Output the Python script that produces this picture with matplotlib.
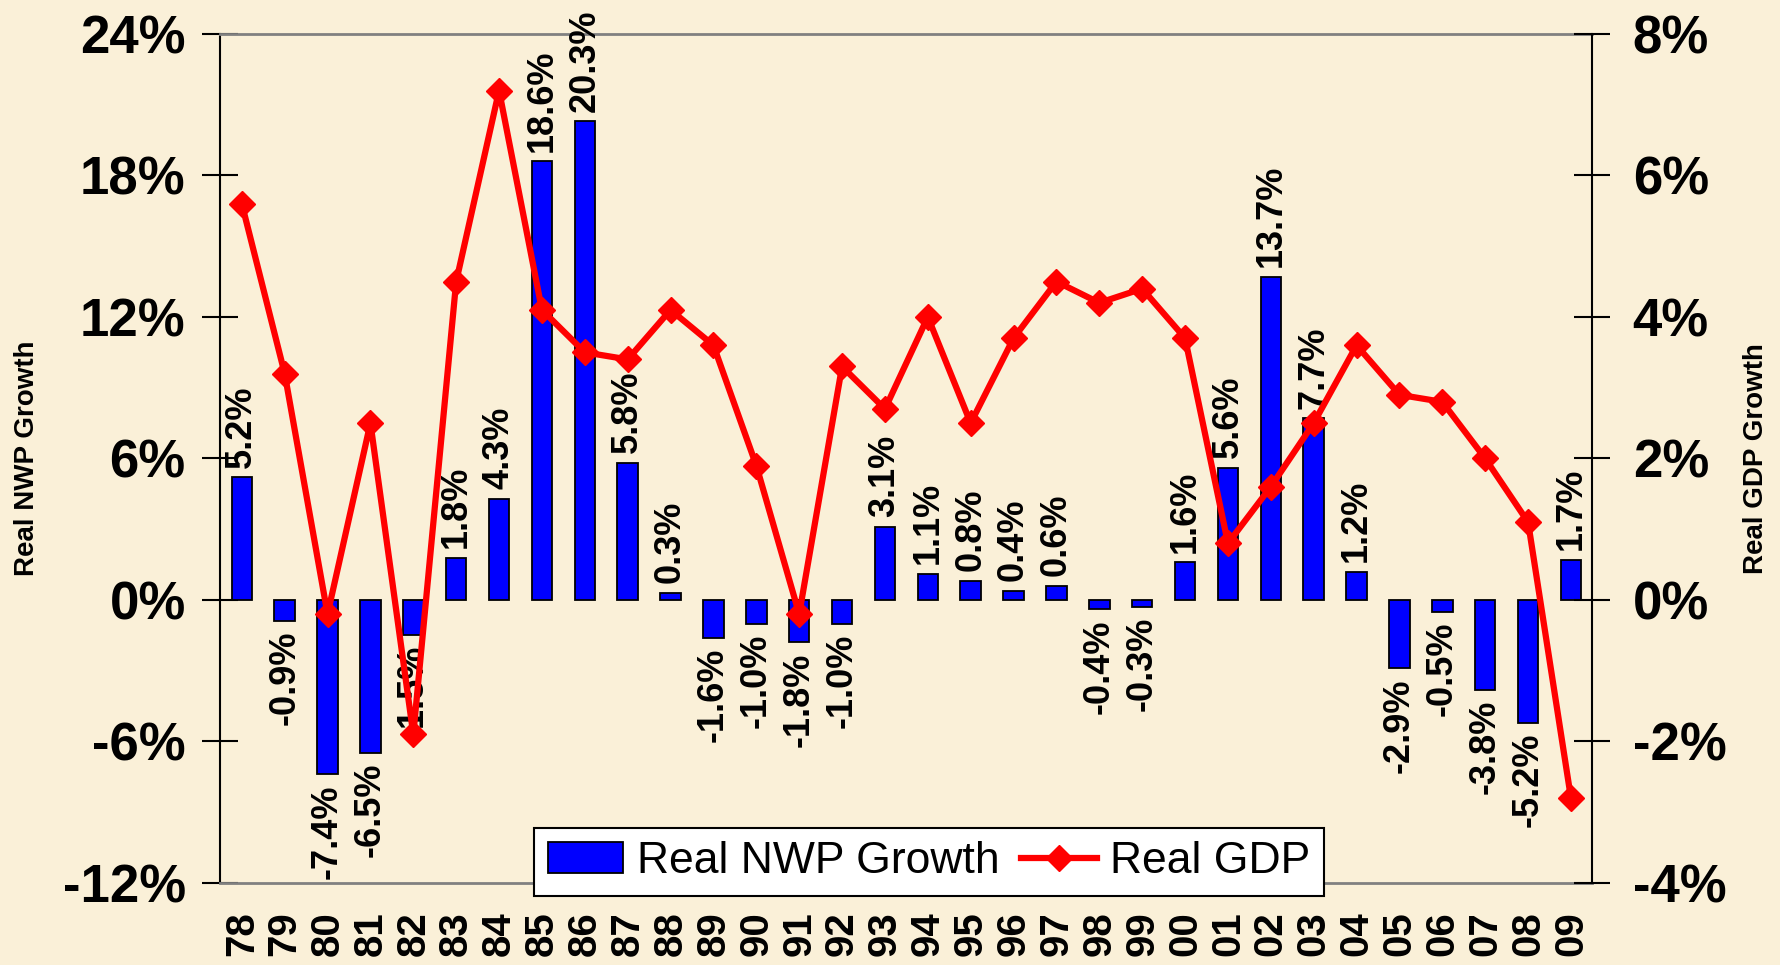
import matplotlib
matplotlib.use("Agg")
import matplotlib.pyplot as plt
from matplotlib.ticker import FuncFormatter

# ──────────────────────────────────────────────
# Data
# ──────────────────────────────────────────────
YEARS = ["78", "79", "80", "81", "82", "83", "84", "85", "86", "87", "88",
         "89", "90", "91", "92", "93", "94", "95", "96", "97", "98", "99",
         "00", "01", "02", "03", "04", "05", "06", "07", "08", "09"]

NWP_GROWTH = [5.2, -0.9, -7.4, -6.5, -1.5, 1.8, 4.3, 18.6, 20.3, 5.8, 0.3,
              -1.6, -1.0, -1.8, -1.0, 3.1, 1.1, 0.8, 0.4, 0.6, -0.4, -0.3,
              1.6, 5.6, 13.7, 7.7, 1.2, -2.9, -0.5, -3.8, -5.2, 1.7]

GDP_GROWTH = [5.6, 3.2, -0.2, 2.5, -1.9, 4.5, 7.2, 4.1, 3.5, 3.4, 4.1,
              3.6, 1.9, -0.2, 3.3, 2.7, 4.0, 2.5, 3.7, 4.5, 4.2, 4.4,
              3.7, 0.8, 1.6, 2.5, 3.6, 2.9, 2.8, 2.0, 1.1, -2.8]

LEFT_TICKS = [-12, -6, 0, 6, 12, 18, 24]
RIGHT_TICKS = [-4, -2, 0, 2, 4, 6, 8]

# ──────────────────────────────────────────────
# Style
# ──────────────────────────────────────────────
BG = "#FAF0D8"
BLUE = "#0000FF"
RED = "#FF0000"
plt.rcParams["font.family"] = ["Liberation Sans", "DejaVu Sans"]

pct = FuncFormatter(lambda v, _: f"{v:.0f}%")

fig = plt.figure(figsize=(17.8, 9.65), dpi=100, facecolor=BG)
ax = fig.add_axes([0.1238, 0.0850, 0.7708, 0.8798])
ax.set_facecolor("none")
x = list(range(len(YEARS)))

# bars (left axis)
bars = ax.bar(x, NWP_GROWTH, width=0.48, color=BLUE, edgecolor="black",
              linewidth=1.3, zorder=2)
for xi, v in zip(x, NWP_GROWTH):
    ax.annotate(f"{v:.1f}%", xy=(xi, v), xytext=(0, 7 if v >= 0 else -7),
                textcoords="offset points", rotation=90, ha="center",
                va="bottom" if v >= 0 else "top", fontsize=26,
                fontweight="bold", zorder=3)

ax.set_xlim(-0.5, len(YEARS) - 0.5)
ax.set_ylim(LEFT_TICKS[0], LEFT_TICKS[-1])
ax.set_yticks(LEFT_TICKS)
ax.yaxis.set_major_formatter(pct)
ax.set_xticks(x)
ax.set_xticklabels(YEARS, rotation=90, fontsize=29, fontweight="bold")
ax.tick_params(axis="x", length=0, pad=20)
ax.tick_params(axis="y", direction="inout", length=26, width=1.5, pad=12,
               labelsize=38)
for lbl in ax.get_yticklabels():
    lbl.set_fontweight("bold")

ax.spines["left"].set_color("black")
ax.spines["left"].set_linewidth(1.5)
ax.spines["right"].set_visible(False)
for side in ("top", "bottom"):
    ax.spines[side].set_color("#808080")
    ax.spines[side].set_linewidth(2)

ax.set_ylabel("Real NWP Growth", fontsize=20, fontweight="bold")
ax.yaxis.set_label_coords(-0.1315, 0.5)

# line (right axis)
ax2 = ax.twinx()
ax2.set_facecolor("none")
line, = ax2.plot(x, GDP_GROWTH, color=RED, lw=4.5, marker="D", ms=13.5,
                 mfc=RED, mec=RED, zorder=4)
ax2.set_ylim(RIGHT_TICKS[0], RIGHT_TICKS[-1])
ax2.set_yticks(RIGHT_TICKS)
ax2.yaxis.set_major_formatter(pct)
ax2.tick_params(axis="y", direction="inout", length=26, width=1.5, pad=16,
                labelsize=38)
for lbl in ax2.get_yticklabels():
    lbl.set_fontweight("bold")
for side in ("top", "bottom", "left"):
    ax2.spines[side].set_visible(False)
ax2.spines["right"].set_color("black")
ax2.spines["right"].set_linewidth(1.5)

ax2.set_ylabel("Real GDP Growth", fontsize=20, fontweight="bold",
               rotation=90)
ax2.yaxis.set_label_coords(1.1098, 0.5)

# legend
leg = ax2.legend([bars, line], ["Real NWP Growth", "Real GDP"], loc="center",
                 bbox_to_anchor=(0.522, 0.107), bbox_transform=fig.transFigure,
                 ncol=2, fontsize=32, frameon=True, fancybox=False,
                 edgecolor="black", framealpha=1, numpoints=1,
                 handlelength=1.7, handletextpad=0.3, columnspacing=0.5,
                 borderpad=0.3, borderaxespad=0)
leg.get_frame().set_linewidth(1.5)
leg.set_zorder(10)

fig.savefig("out.png", dpi=100, facecolor=BG)
